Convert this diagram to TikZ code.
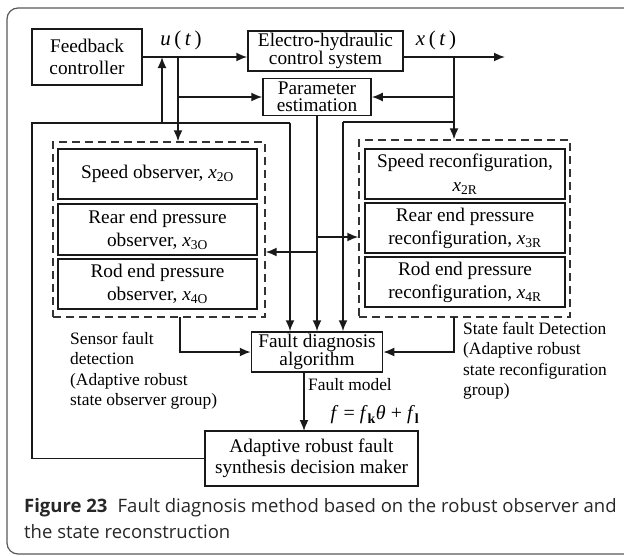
\documentclass[tikz,border=0pt]{standalone}
\usepackage{fontspec}
\setmainfont{Liberation Serif}
\newfontfamily\capfont{Open Sans}
\usetikzlibrary{arrows.meta}

% variable with an upright subscript
\newcommand\xsub[1]{\textit{x}\textsubscript{#1}}

\begin{document}
\begin{tikzpicture}[x=1pt,y=-1pt,
  txt/.style={font=\fontsize{19.3}{21}\selectfont, text=black},
  blk/.style={txt, draw=black!90, line width=1.5, inner sep=0pt, align=center},
  tight/.style={font=\fontsize{19.3}{17.5}\selectfont},
  grp/.style={draw=black!80, line width=1.4, dash pattern=on 8pt off 5pt, inner sep=0pt},
  wire/.style={draw=black!90, line width=1.7},
  arr/.style={wire, -{Latex[length=11pt,width=9pt]}},
  small/.style={font=\fontsize{17.4}{20.5}\selectfont, text=black},
  note/.style={small, align=left, inner sep=0pt, anchor=north west},
  capt/.style={anchor=base west, inner sep=0pt, text=black!85, font=\capfont\fontsize{18.5}{22}\selectfont}]
\useasboundingbox (0,0) rectangle (624,555);

% outer frame of the figure panel
\draw[black!65, line width=1.2, rounded corners=11] (7,8) rectangle (640,554);

% main blocks
\node[blk, minimum width=110, minimum height=56, font=\fontsize{19.3}{22}\selectfont] (fb) at (87,57) {Feedback\\controller};
\node[blk, tight, minimum width=155, minimum height=40] (ehs) at (325.5,51) {Electro-hydraulic\\control system};
\node[blk, tight, minimum width=108, minimum height=37] (pe) at (317,97) {Parameter\\estimation};
\node[blk, tight, minimum width=131, minimum height=40] (fd) at (317,352) {Fault diagnosis\\algorithm};
\node[blk, minimum width=213, minimum height=55, font=\fontsize{19.3}{20.5}\selectfont] (adm) at (311.5,458.5) {Adaptive robust fault\\synthesis decision maker};

% observer group
\node[grp, minimum width=212, minimum height=175] (lgrp) at (159,229.5) {};
\node[blk, minimum width=199, minimum height=50] (spo) at (157.5,174) {Speed observer, \xsub{2O}};
\node[blk, minimum width=199, minimum height=51, font=\fontsize{19.3}{23}\selectfont] (reo) at (157.5,229.5) {Rear end pressure\\observer, \xsub{3O}};
\node[blk, minimum width=199, minimum height=50, font=\fontsize{19.3}{23}\selectfont] (roo) at (157.5,284) {Rod end pressure\\observer, \xsub{4O}};

% reconfiguration group
\node[grp, minimum width=211, minimum height=177] (rgrp) at (464.5,228.5) {};
\node[blk, minimum width=200, minimum height=50, font=\fontsize{19.3}{24}\selectfont] (spr) at (465,174) {Speed reconfiguration,\\\xsub{2R}};
\node[blk, minimum width=200, minimum height=50, font=\fontsize{19.3}{23}\selectfont] (rer) at (465,228) {Rear end pressure\\reconfiguration, \xsub{3R}};
\node[blk, minimum width=200, minimum height=50, font=\fontsize{19.3}{23}\selectfont] (ror) at (465,282) {Rod end pressure\\reconfiguration, \xsub{4R}};

% signal labels
\node[txt, font=\fontsize{21}{21}\selectfont] (ut) at (181,40) {\textit{u}\,(\,\textit{t}\,)};
\node[txt, font=\fontsize{21}{21}\selectfont] (xt) at (436,40) {\textit{x}\,(\,\textit{t}\,)};
\node[note] (sfd) at (70,332) {Sensor fault\\detection\\(Adaptive robust\\state observer group)};
\node[note] (stfd) at (463,322) {State fault Detection\\(Adaptive robust\\state reconfiguration\\group)};
\node[small, anchor=west, inner sep=0pt] (fm) at (308,385) {Fault model};
\node[txt, font=\fontsize{20}{20}\selectfont] (fml) at (375,415)
  {\textit{f} = \textit{f}\textsubscript{\textbf{k}}\textit{θ} + \textit{f}\textsubscript{\textbf{l}}};

% junctions and free ends
\coordinate (uj) at (178,57);
\coordinate (ub) at (178,97);
\coordinate (xj) at (454,57);
\coordinate (xb) at (454,97);
\coordinate (out) at (505,57);
\coordinate (lloop) at (290,123);
\coordinate (rloop) at (343,122);
\coordinate (pr) at (317,237);
\coordinate (pl) at (317,252);
\coordinate (fbup) at (162,123);
\coordinate (lcorner) at (32,123);

% forward path
\draw[arr] (fb.east) -- (fb.east -| ehs.west);
\draw[arr] (ehs.east |- out) -- (out);
\draw[arr] (uj) -- (uj |- lgrp.north);
\draw[arr] (ub) -- (ub -| pe.west);
\draw[arr] (xj) -- (xj |- rgrp.north);
\draw[arr] (xb) -- (xb -| pe.east);

% parameter estimation outputs
\draw[arr] (pe.south) -- (fd.north);
\draw[arr] (pr) -- (pr -| rgrp.west);
\draw[arr] (pl) -- (pl -| lgrp.east);

% loops into the diagnosis block
\draw[wire] (adm.west) -| (lcorner) -- (lloop);
\draw[arr] (lloop) -- (lloop |- fd.north);
\draw[arr] (fbup) -- (fbup |- fb.east);
\draw[wire] (xj |- rloop) -- (rloop);
\draw[arr] (rloop) -- (rloop |- fd.north);

% group outputs
\draw[arr] (180,317) |- (fd.west);
\draw[arr] (454,317) |- (fd.east);

% fault model to decision maker
\draw[arr] (304,372) -- (304,431);

% caption
\node[capt] (cap1) at (24,512)
  {\textbf{Figure 23}\hspace{0.55em}Fault diagnosis method based on the robust observer and};
\node[capt] (cap2) at (24,538) {the state reconstruction};
\end{tikzpicture}
\end{document}
